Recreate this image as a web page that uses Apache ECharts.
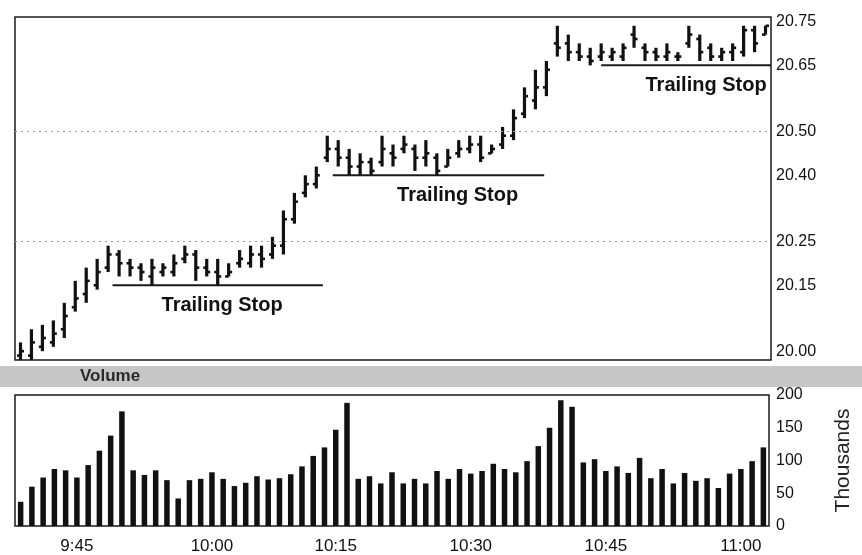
<!DOCTYPE html>
<html>
<head>
<meta charset="utf-8">
<script src="https://cdn.jsdelivr.net/npm/echarts@6/dist/echarts.min.js"></script>
<style>
  html, body { margin: 0; padding: 0; background: #fff; }
  #chart { width: 862px; height: 555px; }
</style>
</head>
<body>
<div id="chart"></div>
<script>
// price bars (one per bar, left to right)
const open = [19.99, 19.99, 20.01, 20.02, 20.05, 20.10, 20.13, 20.15, 20.19, 20.22, 20.20, 20.19, 20.17, 20.18, 20.18, 20.21, 20.22, 20.19, 20.18, 20.17, 20.20, 20.20, 20.22, 20.22, 20.24,
  20.30, 20.36, 20.38, 20.44, 20.46, 20.44, 20.42, 20.43, 20.43, 20.45, 20.46, 20.46, 20.44, 20.44, 20.42, 20.45, 20.46, 20.47, 20.45, 20.47, 20.49, 20.54, 20.57, 20.60,
  20.70, 20.70, 20.68, 20.67, 20.67, 20.67, 20.67, 20.72, 20.69, 20.68, 20.67, 20.67, 20.70, 20.71, 20.69, 20.67, 20.68, 20.68, 20.73, 20.72];
const high = [20.02, 20.05, 20.06, 20.07, 20.11, 20.16, 20.19, 20.21, 20.24, 20.23, 20.21, 20.20, 20.21, 20.20, 20.22, 20.24, 20.23, 20.21, 20.21, 20.20, 20.23, 20.24, 20.24, 20.26, 20.32,
  20.36, 20.40, 20.42, 20.49, 20.48, 20.46, 20.45, 20.44, 20.49, 20.47, 20.49, 20.47, 20.48, 20.45, 20.46, 20.48, 20.49, 20.49, 20.47, 20.51, 20.55, 20.60, 20.64, 20.66,
  20.74, 20.72, 20.70, 20.69, 20.70, 20.69, 20.70, 20.74, 20.70, 20.69, 20.70, 20.68, 20.74, 20.72, 20.70, 20.69, 20.70, 20.74, 20.74, 20.74];
const low = [19.98, 19.98, 20.00, 20.01, 20.03, 20.09, 20.11, 20.14, 20.18, 20.17, 20.17, 20.16, 20.15, 20.17, 20.17, 20.20, 20.16, 20.17, 20.15, 20.17, 20.19, 20.19, 20.19, 20.21, 20.22,
  20.29, 20.35, 20.37, 20.43, 20.42, 20.40, 20.40, 20.40, 20.42, 20.42, 20.45, 20.41, 20.42, 20.40, 20.42, 20.44, 20.45, 20.43, 20.45, 20.46, 20.48, 20.53, 20.55, 20.58,
  20.67, 20.66, 20.66, 20.65, 20.66, 20.66, 20.66, 20.69, 20.66, 20.66, 20.66, 20.66, 20.69, 20.66, 20.66, 20.66, 20.66, 20.67, 20.68, 20.72];
const close = [20.00, 20.02, 20.03, 20.04, 20.08, 20.12, 20.16, 20.18, 20.22, 20.20, 20.19, 20.18, 20.19, 20.19, 20.20, 20.22, 20.19, 20.18, 20.17, 20.18, 20.21, 20.22, 20.21, 20.24, 20.30,
  20.34, 20.38, 20.40, 20.46, 20.44, 20.42, 20.43, 20.41, 20.46, 20.44, 20.47, 20.44, 20.45, 20.41, 20.44, 20.46, 20.47, 20.44, 20.46, 20.49, 20.53, 20.58, 20.60, 20.64,
  20.69, 20.68, 20.67, 20.66, 20.68, 20.68, 20.69, 20.71, 20.68, 20.67, 20.68, 20.67, 20.72, 20.68, 20.67, 20.68, 20.69, 20.73, 20.70, 20.74];

// volume in thousands
const volume = [37, 60, 74, 87, 85, 74, 93, 115, 138, 175, 85, 78, 85, 70, 42, 70, 72, 82,
  72, 61, 66, 76, 71, 73, 79, 91, 107, 120, 147, 188, 72, 76, 65, 82, 65,
  72, 65, 84, 72, 87, 80, 84, 95, 87, 82, 99, 122, 150, 192, 182, 97,
  102, 84, 91, 81, 104, 73, 87, 65, 81, 69, 73, 58, 80, 87, 99, 120];

const timeTicks = ['9:45', '10:00', '10:15', '10:30', '10:45', '11:00'];
const timeTickBars = [5, 17, 28, 40, 52, 64];
const priceTicks = [20.00, 20.15, 20.25, 20.40, 20.50, 20.65, 20.75];
const priceGrid = [20.25, 20.50];

// trailing stops: start bar, end bar, level, where the note sits
const stopFrom = [8.4, 28.5, 53];
const stopTo = [27.6, 47.8, 68.5];
const stopLevel = [20.15, 20.40, 20.65];
const stopNoteAt = [18.4, 39.9, 68.1];

const font = 'Liberation Sans, Arial, sans-serif';
const ink = '#111';

const ohlc = open.map((o, i) => [i, o, high[i], low[i], close[i]]);
const stops = stopLevel.map((lv, i) => [stopFrom[i], stopTo[i], lv, stopNoteAt[i]]);

function renderOHLC(params, api) {
  const x = api.value(0);
  const o = api.coord([x, api.value(1)]);
  const h = api.coord([x, api.value(2)]);
  const l = api.coord([x, api.value(3)]);
  const c = api.coord([x, api.value(4)]);
  const tick = { stroke: ink, lineWidth: 2.6 };
  return {
    type: 'group',
    children: [
      { type: 'line', shape: { x1: h[0], y1: h[1], x2: l[0], y2: l[1] }, style: { stroke: ink, lineWidth: 3.2 } },
      { type: 'line', shape: { x1: o[0] - 3.5, y1: o[1], x2: o[0], y2: o[1] }, style: tick },
      { type: 'line', shape: { x1: c[0], y1: c[1], x2: c[0] + 3.5, y2: c[1] }, style: tick }
    ]
  };
}

function renderStop(params, api) {
  const a = api.coord([api.value(0), api.value(2)]);
  const b = api.coord([api.value(1), api.value(2)]);
  const n = api.coord([api.value(3), api.value(2)]);
  const last = params.dataIndex === stops.length - 1;
  return {
    type: 'group',
    children: [
      { type: 'line', shape: { x1: a[0], y1: a[1], x2: b[0], y2: b[1] }, style: { stroke: '#1a1a1a', lineWidth: 2 } },
      {
        type: 'text',
        x: n[0], y: n[1] + 20,
        style: {
          text: 'Trailing Stop', fill: ink, font: 'bold 20px ' + font,
          align: last ? 'right' : 'center', verticalAlign: 'middle'
        }
      }
    ]
  };
}

const chart = echarts.init(document.getElementById('chart'));

const option = {
  backgroundColor: '#fff',
  animation: false,
  graphic: [
    { type: 'rect', left: 0, top: 366, shape: { width: 862, height: 21 }, style: { fill: '#c6c6c6' }, z: -1 },
    { type: 'text', left: 80, top: 368, style: { text: 'Volume', font: 'bold 17px ' + font, fill: '#2a2a2a' } }
  ],
  grid: [
    { left: 15, right: 91, top: 17, bottom: 195, show: true, borderColor: '#1a1a1a', borderWidth: 1.5 },
    { left: 15, right: 91, top: 395, bottom: 27, show: true, borderColor: '#1a1a1a', borderWidth: 1.5 }
  ],
  xAxis: [
    {
      type: 'value', gridIndex: 0, min: -0.5, max: open.length - 0.5,
      axisLine: { show: false }, axisTick: { show: false }, axisLabel: { show: false }, splitLine: { show: false }
    },
    {
      type: 'category', gridIndex: 1, data: volume.map((v, i) => i),
      axisLine: { show: false }, axisTick: { show: false }, splitLine: { show: false },
      axisLabel: {
        interval: (i) => timeTickBars.includes(i),
        formatter: (v, i) => timeTicks[timeTickBars.indexOf(i)] || '',
        color: ink, fontFamily: font, fontSize: 17, margin: 12
      }
    }
  ],
  yAxis: [
    {
      type: 'value', gridIndex: 0, position: 'right', min: 19.98, max: 20.76, interval: 0.01,
      axisLine: { show: false }, axisTick: { show: false }, splitLine: { show: false },
      axisLabel: {
        color: ink, fontFamily: font, fontSize: 16, margin: 5,
        formatter: (v) => priceTicks.some((t) => Math.round(t * 100) === Math.round(v * 100)) ? v.toFixed(2) : ''
      }
    },
    {
      type: 'value', gridIndex: 1, position: 'right', min: 0, max: 200, interval: 50,
      axisLine: { show: false }, axisTick: { show: false }, splitLine: { show: false },
      axisLabel: { color: ink, fontFamily: font, fontSize: 16, margin: 7 },
      name: 'Thousands', nameLocation: 'middle', nameRotate: 90, nameGap: 64,
      nameTextStyle: { color: '#222', fontFamily: font, fontSize: 21 }
    }
  ],
  series: [
    {
      type: 'custom', name: 'Price', xAxisIndex: 0, yAxisIndex: 0,
      data: ohlc, renderItem: renderOHLC,
      encode: { x: 0, y: [1, 2, 3, 4] },
      markLine: {
        silent: true, symbol: 'none', label: { show: false },
        lineStyle: { color: '#9a9a9a', type: [2, 4], width: 1 },
        data: priceGrid.map((v) => ({ yAxis: v }))
      }
    },
    {
      type: 'custom', name: 'Trailing Stop', xAxisIndex: 0, yAxisIndex: 0,
      data: stops, renderItem: renderStop,
      encode: { x: [0, 1], y: 2 }
    },
    {
      type: 'bar', name: 'Volume', xAxisIndex: 1, yAxisIndex: 1,
      data: volume, barWidth: 5.5,
      itemStyle: { color: ink }
    }
  ]
};

chart.setOption(option);
</script>
</body>
</html>
